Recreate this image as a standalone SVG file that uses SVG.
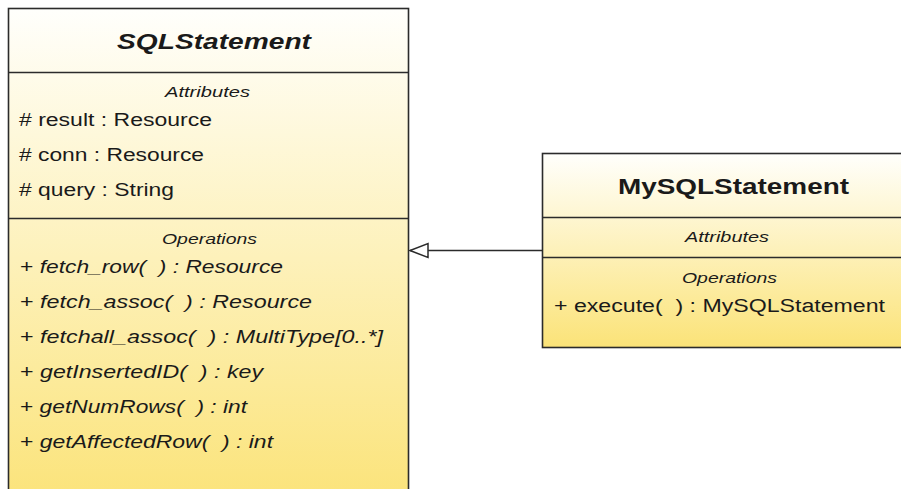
<svg xmlns="http://www.w3.org/2000/svg" width="901" height="489" viewBox="0 0 901 489">
<style>
.box{stroke:#2b2b2b;stroke-width:1.6}
.sep{stroke:#2b2b2b;stroke-width:1.6}
.t{font-family:"Liberation Sans",Arial,sans-serif;fill:#1a1a1a}
.title{font-size:22px;font-weight:bold;text-anchor:middle}
.sec{font-size:15px;font-style:italic;text-anchor:middle}
.row{font-size:18px}
.it{font-style:italic}
.conn{stroke:#2b2b2b;stroke-width:1.5;fill:none}
</style>
<defs>
<linearGradient id="g" x1="0" y1="0" x2="0" y2="1">
<stop offset="0" stop-color="#fffffc"/>
<stop offset="1" stop-color="#fbe378"/>
</linearGradient>
<marker id="tri" markerWidth="22" markerHeight="18" refX="19" refY="8" orient="auto" markerUnits="userSpaceOnUse">
<path d="M19,8 L1,1 L1,15 Z" fill="#ffffff" stroke="#2b2b2b" stroke-width="1.5"/>
</marker>
</defs>
<rect width="901" height="489" fill="#ffffff"/>
<g id="SQLStatement">
<rect class="box" x="8.5" y="8.5" width="400" height="500" fill="url(#g)"/>
<line class="sep" x1="8.5" y1="72.5" x2="408.5" y2="72.5"/>
<line class="sep" x1="8.5" y1="218.5" x2="408.5" y2="218.5"/>
<text class="t title it" x="214" y="49" textLength="194" lengthAdjust="spacingAndGlyphs">SQLStatement</text>
<text class="t sec" x="207.5" y="97" textLength="85" lengthAdjust="spacingAndGlyphs">Attributes</text>
<text class="t row" x="19" y="126" textLength="193" lengthAdjust="spacingAndGlyphs"># result : Resource</text>
<text class="t row" x="19" y="161" textLength="185" lengthAdjust="spacingAndGlyphs"># conn : Resource</text>
<text class="t row" x="19" y="196" textLength="155" lengthAdjust="spacingAndGlyphs"># query : String</text>
<text class="t sec" x="209.5" y="244" textLength="95" lengthAdjust="spacingAndGlyphs">Operations</text>
<text class="t row" x="20" y="273" textLength="263" lengthAdjust="spacingAndGlyphs">+ <tspan class="it">fetch_row( &#160;) : Resource</tspan></text>
<text class="t row" x="20" y="308" textLength="292" lengthAdjust="spacingAndGlyphs">+ <tspan class="it">fetch_assoc( &#160;) : Resource</tspan></text>
<text class="t row" x="20" y="343" textLength="363" lengthAdjust="spacingAndGlyphs">+ <tspan class="it">fetchall_assoc( &#160;) : MultiType[0..*]</tspan></text>
<text class="t row" x="20" y="378" textLength="243" lengthAdjust="spacingAndGlyphs">+ <tspan class="it">getInsertedID( &#160;) : key</tspan></text>
<text class="t row" x="20" y="413" textLength="227" lengthAdjust="spacingAndGlyphs">+ <tspan class="it">getNumRows( &#160;) : int</tspan></text>
<text class="t row" x="20" y="448" textLength="253" lengthAdjust="spacingAndGlyphs">+ <tspan class="it">getAffectedRow( &#160;) : int</tspan></text>
</g>
<g id="MySQLStatement">
<rect class="box" x="542.5" y="153.5" width="380" height="194" fill="url(#g)"/>
<line class="sep" x1="542.5" y1="217.5" x2="901" y2="217.5"/>
<line class="sep" x1="542.5" y1="257.5" x2="901" y2="257.5"/>
<text class="t title" x="733.5" y="194" textLength="231" lengthAdjust="spacingAndGlyphs">MySQLStatement</text>
<text class="t sec" x="727" y="242" textLength="84" lengthAdjust="spacingAndGlyphs">Attributes</text>
<text class="t sec" x="729.5" y="283" textLength="95" lengthAdjust="spacingAndGlyphs">Operations</text>
<text class="t row" x="554" y="312" textLength="331" lengthAdjust="spacingAndGlyphs">+ execute( &#160;) : MySQLStatement</text>
</g>
<g id="connectors">
<line class="conn" x1="542.5" y1="250.5" x2="410" y2="250.5" marker-end="url(#tri)"/>
</g>
</svg>
